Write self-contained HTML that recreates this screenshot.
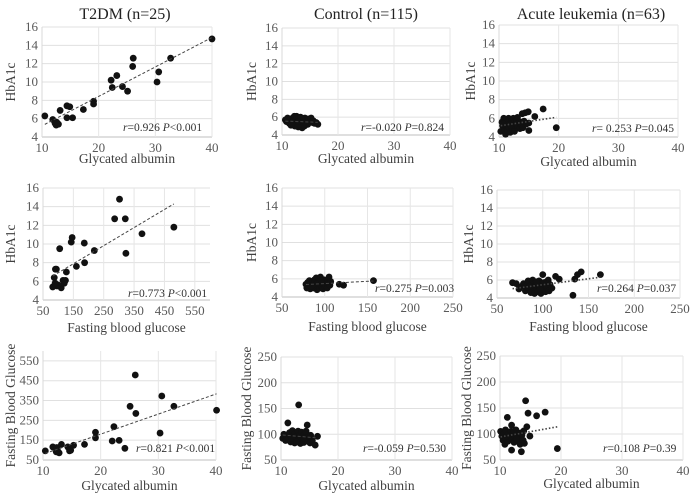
<!DOCTYPE html>
<html><head><meta charset="utf-8"><style>
html,body{margin:0;padding:0;background:#fff}
svg{display:block;font-family:"Liberation Serif",serif}
svg text{font-family:"Liberation Serif",serif}
</style></head><body>
<svg id="chart" width="692" height="496" viewBox="0 0 692 496" xmlns="http://www.w3.org/2000/svg" font-family="Liberation Serif, serif">
<text x="125" y="19" font-size="16" text-anchor="middle" fill="#222">T2DM (n=25)</text>
<text x="366" y="19" font-size="16" text-anchor="middle" fill="#222">Control (n=115)</text>
<text x="591" y="19" font-size="16" text-anchor="middle" fill="#222">Acute leukemia (n=63)</text>
</svg>
<script>
// ---- data ----
const t2dmGaHba1c = [[10.5,6.3],[11.9,5.9],[12.6,5.6],[12.5,5.3],[12.9,5.4],[12.3,5.5],[13.2,6.9],[14.4,7.4],[14.9,7.3],[14.4,6.1],[15.4,6.1],[17.3,7.0],[19.1,7.9],[19.1,7.6],[22.2,10.2],[22.4,9.4],[23.2,10.7],[24.2,9.5],[25.1,9.0],[26.0,11.7],[26.1,12.6],[30.3,10.0],[30.6,11.1],[32.7,12.6],[40.0,14.7]];
const t2dmFbgHba1c = [[82,5.4],[91,7.3],[94,7.3],[87,6.4],[96,5.5],[110,5.3],[105,9.5],[116,6.1],[124,6.1],[127,7.0],[143,10.2],[146,10.7],[160,7.6],[186,10.1],[187,8.0],[219,9.3],[286,12.7],[302,14.8],[321,12.7],[323,9.0],[376,11.1],[481,11.8],[100,5.6],[120,5.8],[90,5.8]];
const t2dmGaFbg = [[10.4,96],[11.7,116],[12.4,113],[12.3,91],[12.8,86],[13.2,129],[14.3,116],[14.6,96],[14.8,99],[15.3,124],[17.2,129],[19.1,190],[19.1,162],[22.0,146],[22.3,218],[23.2,149],[24.2,109],[25.1,321],[26.0,479],[26.1,285],[30.3,186],[30.6,373],[32.7,321],[40.1,301],[12.5,100]];
const controlGaHba1c = [[10.6,5.7],[10.8,5.5],[11,5.9],[11.2,5.6],[11.3,5.3],[11.5,5.8],[11.6,5.1],[11.8,5.5],[11.9,5.9],[12,5.2],[12.1,5.7],[12.2,6.1],[12.3,5.0],[12.4,5.4],[12.5,5.8],[12.6,6.1],[12.7,5.2],[12.8,5.6],[12.9,4.9],[13,5.9],[13.1,5.3],[13.2,5.7],[13.3,6.0],[13.4,5.1],[13.5,5.5],[13.6,4.8],[13.7,5.8],[13.8,5.3],[13.9,5.6],[14,5.0],[14.1,5.9],[14.3,5.4],[14.4,5.7],[14.6,5.2],[14.8,5.8],[15,5.5],[15.2,5.9],[15.4,5.4],[15.6,5.6],[15.8,5.3],[16.1,5.4],[16.4,5.2],[11.4,5.4],[12.0,5.5],[12.6,5.4],[13.0,5.2],[13.5,5.9],[14.2,5.2],[11.7,5.2],[12.9,5.5]];
const leukGaHba1c = [[10.3,4.6],[10.5,5.6],[10.6,5.2],[10.8,6.0],[10.9,4.9],[11.0,5.5],[11.1,4.3],[11.2,5.8],[11.3,5.1],[11.4,4.7],[11.5,5.4],[11.6,6.0],[11.7,5.0],[11.8,5.6],[11.9,4.5],[12.0,5.9],[12.1,5.2],[12.2,5.5],[12.3,4.8],[12.4,6.0],[12.5,5.3],[12.7,5.7],[12.8,5.0],[12.9,5.4],[13.0,5.8],[13.2,5.1],[13.3,5.5],[13.5,4.9],[13.6,5.6],[13.8,5.3],[13.9,6.5],[14.0,5.0],[14.2,5.7],[14.4,6.6],[14.6,5.4],[14.9,6.7],[15.0,4.7],[15.0,5.5],[16.0,6.2],[17.4,7.0],[19.6,5.0],[11.0,5.9],[12.6,4.6],[13.1,6.1],[10.7,5.4],[11.9,5.3]];
const controlFbgHba1c = [[78,5.4],[79,5.0],[80,5.6],[81,5.2],[82,5.8],[83,4.9],[84,5.5],[85,5.3],[86,5.7],[87,5.0],[88,5.9],[89,5.4],[90,5.2],[90,6.1],[91,4.8],[92,5.6],[93,5.3],[93,5.9],[94,5.0],[95,5.5],[95,6.2],[96,5.2],[97,5.7],[98,4.9],[98,5.4],[99,5.9],[100,5.1],[100,5.6],[101,5.3],[102,5.8],[103,5.0],[104,5.5],[105,6.2],[106,5.3],[107,5.7],[117,5.4],[122,5.3],[157,5.8],[86,5.1],[88,5.6],[91,5.5],[96,5.8],[84,5.2]];
const leukFbgHba1c = [[67,5.7],[71,5.6],[74,5.0],[77,5.3],[79,5.6],[81,4.8],[83,5.4],[84,5.9],[85,5.1],[87,4.6],[88,5.5],[89,6.0],[90,5.2],[91,4.5],[92,5.7],[93,5.0],[94,5.4],[95,4.7],[96,5.9],[97,5.2],[98,4.5],[99,5.6],[100,6.6],[101,5.0],[102,5.4],[103,4.7],[104,5.8],[105,5.2],[106,6.0],[107,4.8],[108,5.5],[110,5.1],[114,6.4],[118,6.1],[133,4.3],[135,6.1],[138,6.6],[142,6.9],[163,6.6],[86,5.3],[93,5.8],[97,4.9],[101,5.7]];
const controlGaFbg = [[10.3,92],[10.5,100],[10.8,88],[11.0,96],[11.2,122],[11.3,90],[11.5,103],[11.7,85],[11.8,95],[12.0,107],[12.1,88],[12.2,98],[12.4,83],[12.5,102],[12.6,92],[12.8,97],[12.9,86],[13.0,106],[13.1,157],[13.2,90],[13.3,99],[13.4,82],[13.5,94],[13.6,104],[13.7,88],[13.8,96],[14.0,84],[14.1,100],[14.2,91],[14.4,106],[14.6,118],[14.7,87],[14.9,95],[15.1,83],[15.3,92],[15.5,88],[16.0,79],[16.4,96],[11.9,92],[12.7,85],[13.9,93],[15.2,98]];
const leukGaFbg = [[10.1,105],[10.3,96],[10.5,88],[10.6,100],[10.8,80],[10.9,108],[11.0,92],[11.2,132],[11.3,86],[11.4,100],[11.6,95],[11.8,105],[11.9,117],[11.9,69],[12.0,90],[12.1,100],[12.3,84],[12.4,96],[12.6,108],[12.8,92],[12.9,86],[13.0,100],[13.2,94],[13.3,80],[13.5,66],[13.6,98],[13.8,88],[13.9,106],[14.0,82],[14.2,164],[14.4,114],[14.6,140],[14.9,96],[16.0,135],[17.4,142],[19.4,72],[11.1,96],[12.2,104],[12.7,90],[13.4,102]];

const gaTicks = [10,20,30,40];
const hbTicks = [4,6,8,10,12,14,16];
const fbgWideTicks = [50,150,250,350,450,550];
const fbgTicks = [50,100,150,200,250];
const fbgYWideTicks = [50,150,250,350,450,550];

const statLabels = [["0.926","<0.001"],["-0.020","=0.824"],["= 0.253","=0.045"],["0.773","<0.001"],["0.275","=0.003"],["0.264","=0.037"],["0.821","<0.001"],["-0.059","=0.530"],["0.108","=0.39"]];

// ---- layout ----
const panels = [
 {id:"t2dm-ga-hba1c",data:t2dmGaHba1c,xd:[10,40],yd:[4,16],xt:gaTicks,yt:hbTicks,l:42,r:212,t:27,b:137,xl:"Glycated albumin",yl:"HbA1c",xlY:163,ylX:11,stat:0,sx:123,sy:131,dot:false},
 {id:"control-ga-hba1c",data:controlGaHba1c,xd:[10,40],yd:[4,16],xt:gaTicks,yt:hbTicks,l:282,r:450,t:28,b:135,xl:"Glycated albumin",yl:"HbA1c",xlY:163,ylX:252,stat:1,sx:361,sy:131,dot:false},
 {id:"leukemia-ga-hba1c",data:leukGaHba1c,xd:[10,40],yd:[4,16],xt:gaTicks,yt:hbTicks,l:499,r:678,t:25,b:137,xl:"Glycated albumin",yl:"HbA1c",xlY:166,ylX:471,stat:2,sx:592,sy:132,dot:true},
 {id:"t2dm-fbg-hba1c",data:t2dmFbgHba1c,xd:[50,600],yd:[4,16],xt:fbgWideTicks,yt:hbTicks,l:43,r:210,t:188,b:300,xl:"Fasting blood glucose",yl:"HbA1c",xlY:332,ylX:11,stat:3,sx:128,sy:297,dot:false},
 {id:"control-fbg-hba1c",data:controlFbgHba1c,xd:[50,250],yd:[4,16],xt:fbgTicks,yt:hbTicks,l:282,r:453,t:188,b:297,xl:"Fasting blood glucose",yl:"HbA1c",xlY:331,ylX:252,stat:4,sx:375,sy:292,dot:false},
 {id:"leukemia-fbg-hba1c",data:leukFbgHba1c,xd:[50,250],yd:[4,16],xt:fbgTicks,yt:hbTicks,l:497,r:680,t:190,b:298,xl:"Fasting blood glucose",yl:"HbA1c",xlY:331,ylX:469,stat:5,sx:597,sy:292,dot:true},
 {id:"t2dm-ga-fbg",data:t2dmGaFbg,xd:[10,40],yd:[50,600],xt:gaTicks,yt:fbgYWideTicks,l:43,r:216,t:351,b:460,xl:"Glycated albumin",yl:"Fasting Blood Glucose",xlY:490,ylX:11,stat:6,sx:136,sy:452,dot:false},
 {id:"control-ga-fbg",data:controlGaFbg,xd:[10,40],yd:[50,250],xt:gaTicks,yt:fbgTicks,l:281,r:452,t:357,b:460,xl:"Glycated albumin",yl:"Fasting Blood Glucose",xlY:490,ylX:247,stat:7,sx:363,sy:452,dot:false},
 {id:"leukemia-ga-fbg",data:leukGaFbg,xd:[10,40],yd:[50,250],xt:gaTicks,yt:fbgTicks,l:500,r:683,t:356,b:460,xl:"Glycated albumin",yl:"Fasting Blood Glucose",xlY:488,ylX:467,stat:8,sx:603,sy:452,dot:true}
];

const NS="http://www.w3.org/2000/svg";
const FF="Liberation Serif, serif";
const svg=document.getElementById("chart");
function mk(tag,attrs,parent){const e=document.createElementNS(NS,tag);for(const k in attrs)e.setAttribute(k,attrs[k]);if(tag==="text")e.setAttribute("font-family",FF);(parent||svg).appendChild(e);return e;}

panels.forEach(p=>{
 const g=mk("g",{});
 
 
 const X=v=>p.l+(v-p.xd[0])/(p.xd[1]-p.xd[0])*(p.r-p.l);
 const Y=v=>p.b-(v-p.yd[0])/(p.yd[1]-p.yd[0])*(p.b-p.t);
 p.yt.forEach(v=>{
  const ln=mk("line",{x1:p.l,x2:p.r,y1:Y(v),y2:Y(v),stroke:v===p.yd[0]?"#bfbfbf":"#e0e0e0","stroke-width":1},g);
  
  
  const t=mk("text",{x:p.l-4,y:Y(v)+4,"font-size":13,"text-anchor":"end",fill:"#595959"},g);
  t.textContent=v;
  
  
 });
 mk("line",{x1:p.l,x2:p.l,y1:p.t,y2:p.b,stroke:"#d9d9d9"},g);
 p.xt.forEach(v=>{
  if(v!==p.xd[0]){
   const ln=mk("line",{x1:X(v),x2:X(v),y1:p.t,y2:p.b,stroke:"#e6e6e6"},g);
   
   
  }
  const t=mk("text",{x:X(v),y:p.b+15,"font-size":13,"text-anchor":"middle",fill:"#595959"},g);
  t.textContent=v;
  
  
 });
 const xt=mk("text",{x:(p.l+p.r)/2,y:p.xlY,"font-size":13.5,"text-anchor":"middle",fill:"#404040"},g);
 xt.textContent=p.xl;
 
 
 const yt=mk("text",{x:0,y:0,"font-size":13.5,"text-anchor":"middle",fill:"#404040",transform:`translate(${p.ylX+4},${(p.t+p.b)/2}) rotate(-90)`},g);
 yt.textContent=p.yl;
 
 
 p.data.forEach(d=>{
  const c=mk("circle",{cx:X(d[0]),cy:Y(d[1]),r:3.4,fill:"#111"},g);
  
  
 });
 const n=p.data.length;let sx=0,sy=0,sxx=0,sxy=0,mn=Infinity,mx=-Infinity;
 p.data.forEach(d=>{sx+=d[0];sy+=d[1];sxx+=d[0]*d[0];sxy+=d[0]*d[1];mn=Math.min(mn,d[0]);mx=Math.max(mx,d[0]);});
 const m=(n*sxy-sx*sy)/(n*sxx-sx*sx),b0=(sy-m*sx)/n;
 const tl=mk("line",{x1:X(mn),y1:Y(m*mn+b0),x2:X(mx),y2:Y(m*mx+b0),stroke:"#444","stroke-width":p.dot?1.6:1,"stroke-dasharray":p.dot?"1.5,2":"3,2"},g);
 
 
 const s=statLabels[p.stat];
 const st=mk("text",{x:p.sx,y:p.sy,"font-size":11.5,fill:"#333"},g);
 
 
 const a=mk("tspan",{"font-style":"italic"},st);a.textContent="r";
 const b=mk("tspan",{},st);b.textContent=(s[0].startsWith("=")?s[0]:"="+s[0])+" ";
 const c=mk("tspan",{"font-style":"italic"},st);c.textContent="P";
 const d=mk("tspan",{},st);d.textContent=s[1];
});
</script>
</body></html>
